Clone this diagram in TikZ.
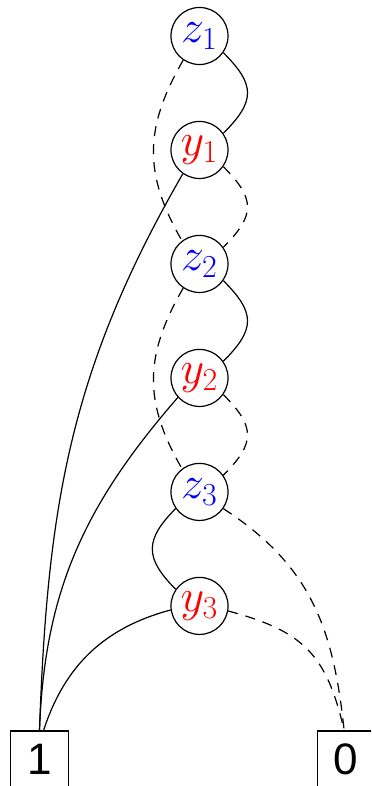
\documentclass[tikz,border=0pt]{standalone}
\usepackage{fontspec}
\newfontfamily\termfont{Liberation Sans}
\DeclareMathSizes{24.88}{24.88}{17.28}{12}
\usetikzlibrary{positioning}

\begin{document}
\begin{tikzpicture}[
    x=0.54pt, y=0.54pt,
    line width=0.65pt,
    node distance=30.1pt,
    var/.style={circle, draw, minimum size=30.8pt, inner sep=0pt, font=\Huge},
    term/.style={rectangle, draw, minimum width=31.1pt, minimum height=30.2pt, inner sep=0pt, font=\termfont\fontsize{23.8}{28}\selectfont},
    hi/.style={draw},
    lo/.style={draw, dash pattern=on 5.4pt off 4.3pt}
]
\clip (0,0) rectangle (371,786);

% variable nodes
\node (z1) [var] at (199.5,750) {\color{blue}$z_1$};
\node (y1) [var, below=of z1] {\color{red}$y_1$};
\node (z2) [var, below=of y1] {\color{blue}$z_2$};
\node (y2) [var, below=of z2] {\color{red}$y_2$};
\node (z3) [var, below=of y2] {\color{blue}$z_3$};
\node (y3) [var, below=of z3] {\color{red}$y_3$};

% terminals
\node (one) [term] at (39.5,27) {1};
\node (zero) [term] at (346,27) {0};

% z1
\draw [hi] (z1.-35) to[out=-45, in=45, looseness=1.45] (y1.35);
\draw [lo] (z1.236) to[out=240, in=120, looseness=1.1] (z2.127);

% y1
\draw [hi] (y1.235) to[out=240, in=88] (one.north);
\draw [lo] (y1.-35) to[out=-45, in=45, looseness=1.45] (z2.35);

% z2
\draw [hi] (z2.-35) to[out=-45, in=45, looseness=1.45] (y2.35);
\draw [lo] (z2.236) to[out=240, in=120, looseness=1.1] (z3.127);

% y2
\draw [hi] (y2.222) to[out=229, in=88] (one.north);
\draw [lo] (y2.-35) to[out=-45, in=45, looseness=1.45] (z3.35);

% z3
\draw [hi] (z3.215) to[out=225, in=135, looseness=1.4] (y3.145);
\draw [lo] (z3.-35) to[out=-33, in=96, looseness=1.05] ([xshift=-1pt]zero.north);

% y3
\draw [hi] (y3.188) to[out=195, in=72] ([xshift=2.2pt]one.north);
\draw [lo] (y3.-10) to[out=-15, in=103, looseness=1.2] ([xshift=-1pt]zero.north);

\end{tikzpicture}
\end{document}
